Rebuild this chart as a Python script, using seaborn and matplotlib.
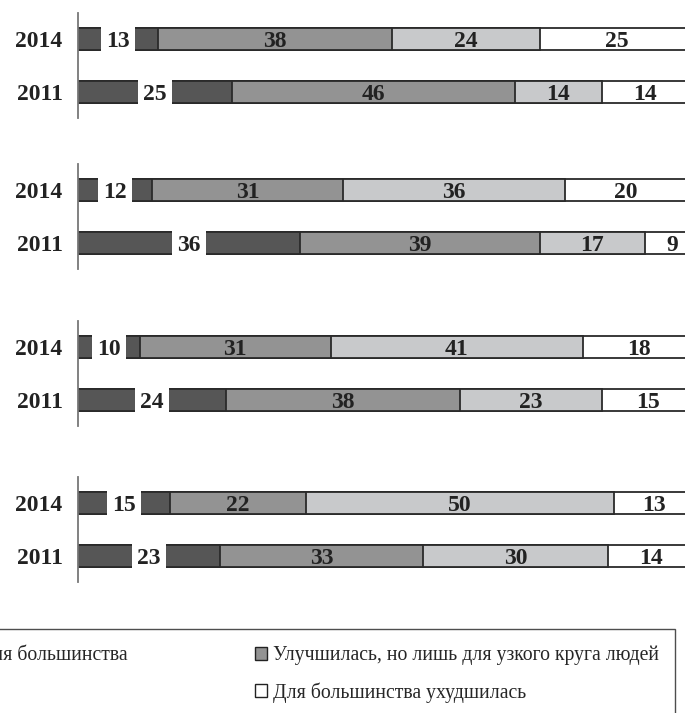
import numpy as np
import matplotlib
matplotlib.use("Agg")
import matplotlib.pyplot as plt
from matplotlib.patches import Patch
import seaborn as sns

# данные: 4 блока, в каждом строки 2014 и 2011
years = ["2014", "2011"]
categories = ["Улучшилась для большинства",
              "Улучшилась, но лишь для узкого круга людей",
              "Не изменилась",
              "Для большинства ухудшилась"]
block1 = [[13, 38, 24, 25], [25, 46, 14, 14]]
block2 = [[12, 31, 36, 20], [36, 39, 17, 9]]
block3 = [[10, 31, 41, 18], [24, 38, 23, 15]]
block4 = [[15, 22, 50, 13], [23, 33, 30, 14]]
blocks = [block1, block2, block3, block4]

colors = ["#565656", "#939393", "#c8c9cb", "#ffffff"]
edge = "#2a2a2a"
text_col = "#222222"

sns.set_style("white")
plt.rcParams['font.family'] = ['Liberation Serif', 'DejaVu Serif']

W, H = 685, 713
fig = plt.figure(figsize=(W / 100, H / 100), dpi=100)

tops = [13, 164, 321, 477]
ax_h = 105
left_px, width_px = 78, 616

for top, block in zip(tops, blocks):
    ax = fig.add_axes([left_px / W, 1 - (top + ax_h) / H, width_px / W, ax_h / H])
    vals = np.array(block, dtype=float)
    cum = np.cumsum(vals, axis=1)
    # рисуем накопленные суммы от самой длинной к самой короткой
    for k in range(3, -1, -1):
        sns.barplot(x=cum[:, k], y=years, orient="h", color=colors[k],
                    saturation=1, width=0.42, edgecolor=edge, linewidth=1.3,
                    ax=ax)
    # подписи значений
    for i in range(len(years)):
        start = 0
        for k in range(4):
            v = vals[i, k]
            xc = start + v / 2
            box = None
            if k == 0:
                box = dict(boxstyle="square,pad=0.22", fc="white", ec="none")
            ax.text(xc, i, f"{int(v)}", ha="center", va="center_baseline",
                    fontsize=17, fontweight="bold", color=text_col, bbox=box)
            start += v
    ax.set_xlim(0, 100)
    ax.set_ylim(1.5, -0.5)
    ax.set_xlabel("")
    ax.set_ylabel("")
    ax.set_xticks([])
    ax.set_yticks([0, 1])
    ax.set_yticklabels(years, fontsize=17, fontweight="bold", color=text_col,
                       va="center_baseline")
    ax.set_yticks([-0.5, 0.5, 1.5], minor=True)
    ax.tick_params(axis="y", which="major", length=0, pad=11)
    ax.tick_params(axis="y", which="minor", length=6, width=1.2,
                   color="#777777", direction="out")
    for s in ["top", "right", "bottom"]:
        ax.spines[s].set_visible(False)
    ax.spines["left"].set_color("#777777")
    ax.spines["left"].set_linewidth(1.3)

handles = [Patch(facecolor=colors[i], edgecolor="#222222", linewidth=1.0,
                 label=categories[i]) for i in [0, 2, 1, 3]]
leg = fig.legend(handles=handles, ncol=2, loc="upper right",
                 bbox_to_anchor=(675 / W, 1 - 629 / H), borderaxespad=0,
                 fontsize=14.2, frameon=True, fancybox=False,
                 handlelength=0.6, handleheight=0.6, handletextpad=0.3,
                 columnspacing=6.5, labelspacing=0.85, borderpad=0.8)
leg.get_frame().set_edgecolor("#222222")
leg.get_frame().set_linewidth(1.0)

fig.savefig("out.png", dpi=100)
